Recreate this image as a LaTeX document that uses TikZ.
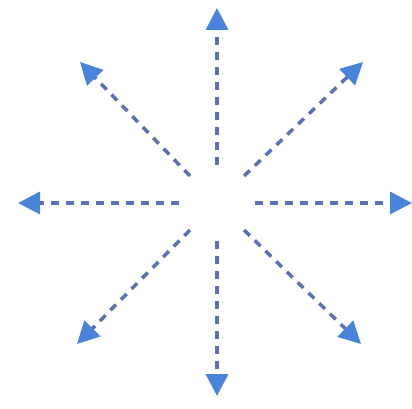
\documentclass[tikz,border=0pt]{standalone}
\usetikzlibrary{arrows.meta}
\definecolor{rayline}{RGB}{92,112,180}
\definecolor{raytip}{RGB}{72,132,220}
\begin{document}
\begin{tikzpicture}[
    x=1pt, y=-1pt,
    hub/.style={
        circle,
        minimum size=76pt,
        inner sep=0pt
    },
    ray/.style={
        draw=rayline,
        line width=3.5pt,
        dash pattern=on 8pt off 7pt,
        -{Triangle[length=22pt,width=22pt,color=raytip]}
    }
]
\useasboundingbox (0,0) rectangle (412,409);

% ===== Centre =====
\node[hub] (hub) at (217,203) {};

% ===== Tips =====
\coordinate (n)  at (217,8);
\coordinate (s)  at (217,396);
\coordinate (w)  at (18,203);
\coordinate (e)  at (412,203);
\coordinate (nw) at (80,62);
\coordinate (ne) at (363,62);
\coordinate (sw) at (77,344);
\coordinate (se) at (361,344);

% ===== Rays =====
\draw[ray] (hub.north) -- (n);
\draw[ray] (hub.south) -- (s);
\draw[ray] (hub.west) -- (w);
\draw[ray] (hub.east) -- (e);
\draw[ray] (hub.north west) -- (nw);
\draw[ray] (hub.north east) -- (ne);
\draw[ray] (hub.south west) -- (sw);
\draw[ray] (hub.south east) -- (se);

\end{tikzpicture}
\end{document}
